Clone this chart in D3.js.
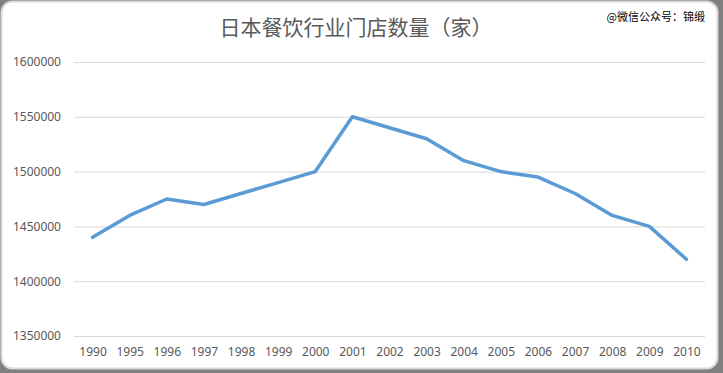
<!DOCTYPE html>
<html>
<head>
<meta charset="utf-8">
<script src="https://cdn.jsdelivr.net/npm/d3@7"></script>
<style>
  html, body { margin: 0; padding: 0; background: #7f7f7f; }
  svg { display: block; font-family: "Microsoft YaHei", "Noto Sans CJK SC", sans-serif; }
</style>
</head>
<body>
<div id="chart"></div>
<script>
const years = ["1990", "1995", "1996", "1997", "1998", "1999", "2000", "2001", "2002",
    "2003", "2004", "2005", "2006", "2007", "2008", "2009", "2010"];
const stores = [1440000, 1460000, 1475000, 1470000, 1480000, 1490000, 1500000, 1550000,
    1540000, 1530000, 1510000, 1500000, 1495000, 1480000, 1460000, 1450000, 1420000];
const yTicks = [1350000, 1400000, 1450000, 1500000, 1550000, 1600000];
const title = "日本餐饮行业门店数量（家）";
const watermark = "@微信公众号：锦缎";

const W = 723, H = 373;
const margin = {top: 62, right: 18, bottom: 37, left: 74},
    width = W - margin.left - margin.right,
    height = H - margin.top - margin.bottom;

const svg = d3.select('#chart')
    .append('svg')
    .attr('width', W)
    .attr('height', H);

// card background
svg.append('rect')
    .attr('x', 1.5).attr('y', 1.5)
    .attr('width', 716).attr('height', 367)
    .attr('rx', 11).attr('ry', 11)
    .attr('fill', '#fff')
    .attr('stroke', '#d9d9d9')
    .attr('stroke-width', 2);

svg.append('text')
    .attr('x', 356).attr('y', 35)
    .attr('text-anchor', 'middle')
    .attr('fill', '#595959')
    .style('font-size', '21px')
    .text(title);

svg.append('text')
    .attr('x', 705).attr('y', 21)
    .attr('text-anchor', 'end')
    .attr('fill', '#000')
    .style('font-size', '11px')
    .text(watermark);

const group = svg.append('g')
    .attr('transform', 'translate(' + margin.left + ',' + margin.top + ')');

const xScale = d3.scalePoint()
    .domain(years)
    .range([0, width])
    .padding(0.5);

const yScale = d3.scaleLinear()
    .domain([1350000, 1600000])
    .range([height, 0]);

const yAxis = d3.axisLeft(yScale)
    .tickValues(yTicks)
    .tickSize(-width)
    .tickPadding(13)
    .tickFormat(d3.format('d'));

const yG = group.append('g')
    .attr('class', 'axis y-axis')
    .call(yAxis);
yG.select('.domain').remove();
yG.selectAll('line').attr('stroke', '#d9d9d9').attr('stroke-width', 1);
yG.selectAll('text')
    .attr('fill', '#595959')
    .style('font-size', '12px')
    .style('font-family', '"Noto Sans", sans-serif');

const xAxis = d3.axisBottom(xScale)
    .tickSize(0)
    .tickPadding(11);

const xG = group.append('g')
    .attr('class', 'axis x-axis')
    .attr('transform', `translate(0, ${height})`)
    .call(xAxis);
xG.select('.domain').remove();
xG.selectAll('text')
    .attr('fill', '#595959')
    .style('font-size', '12px')
    .style('font-family', '"Noto Sans", sans-serif');

const line = d3.line()
    .x((d, i) => xScale(years[i]))
    .y(d => yScale(d));

group.append('path')
    .datum(stores)
    .attr('fill', 'none')
    .attr('stroke', '#5b9bd5')
    .attr('stroke-width', 3.5)
    .attr('stroke-linejoin', 'round')
    .attr('stroke-linecap', 'round')
    .attr('d', line);
</script>
</body>
</html>
